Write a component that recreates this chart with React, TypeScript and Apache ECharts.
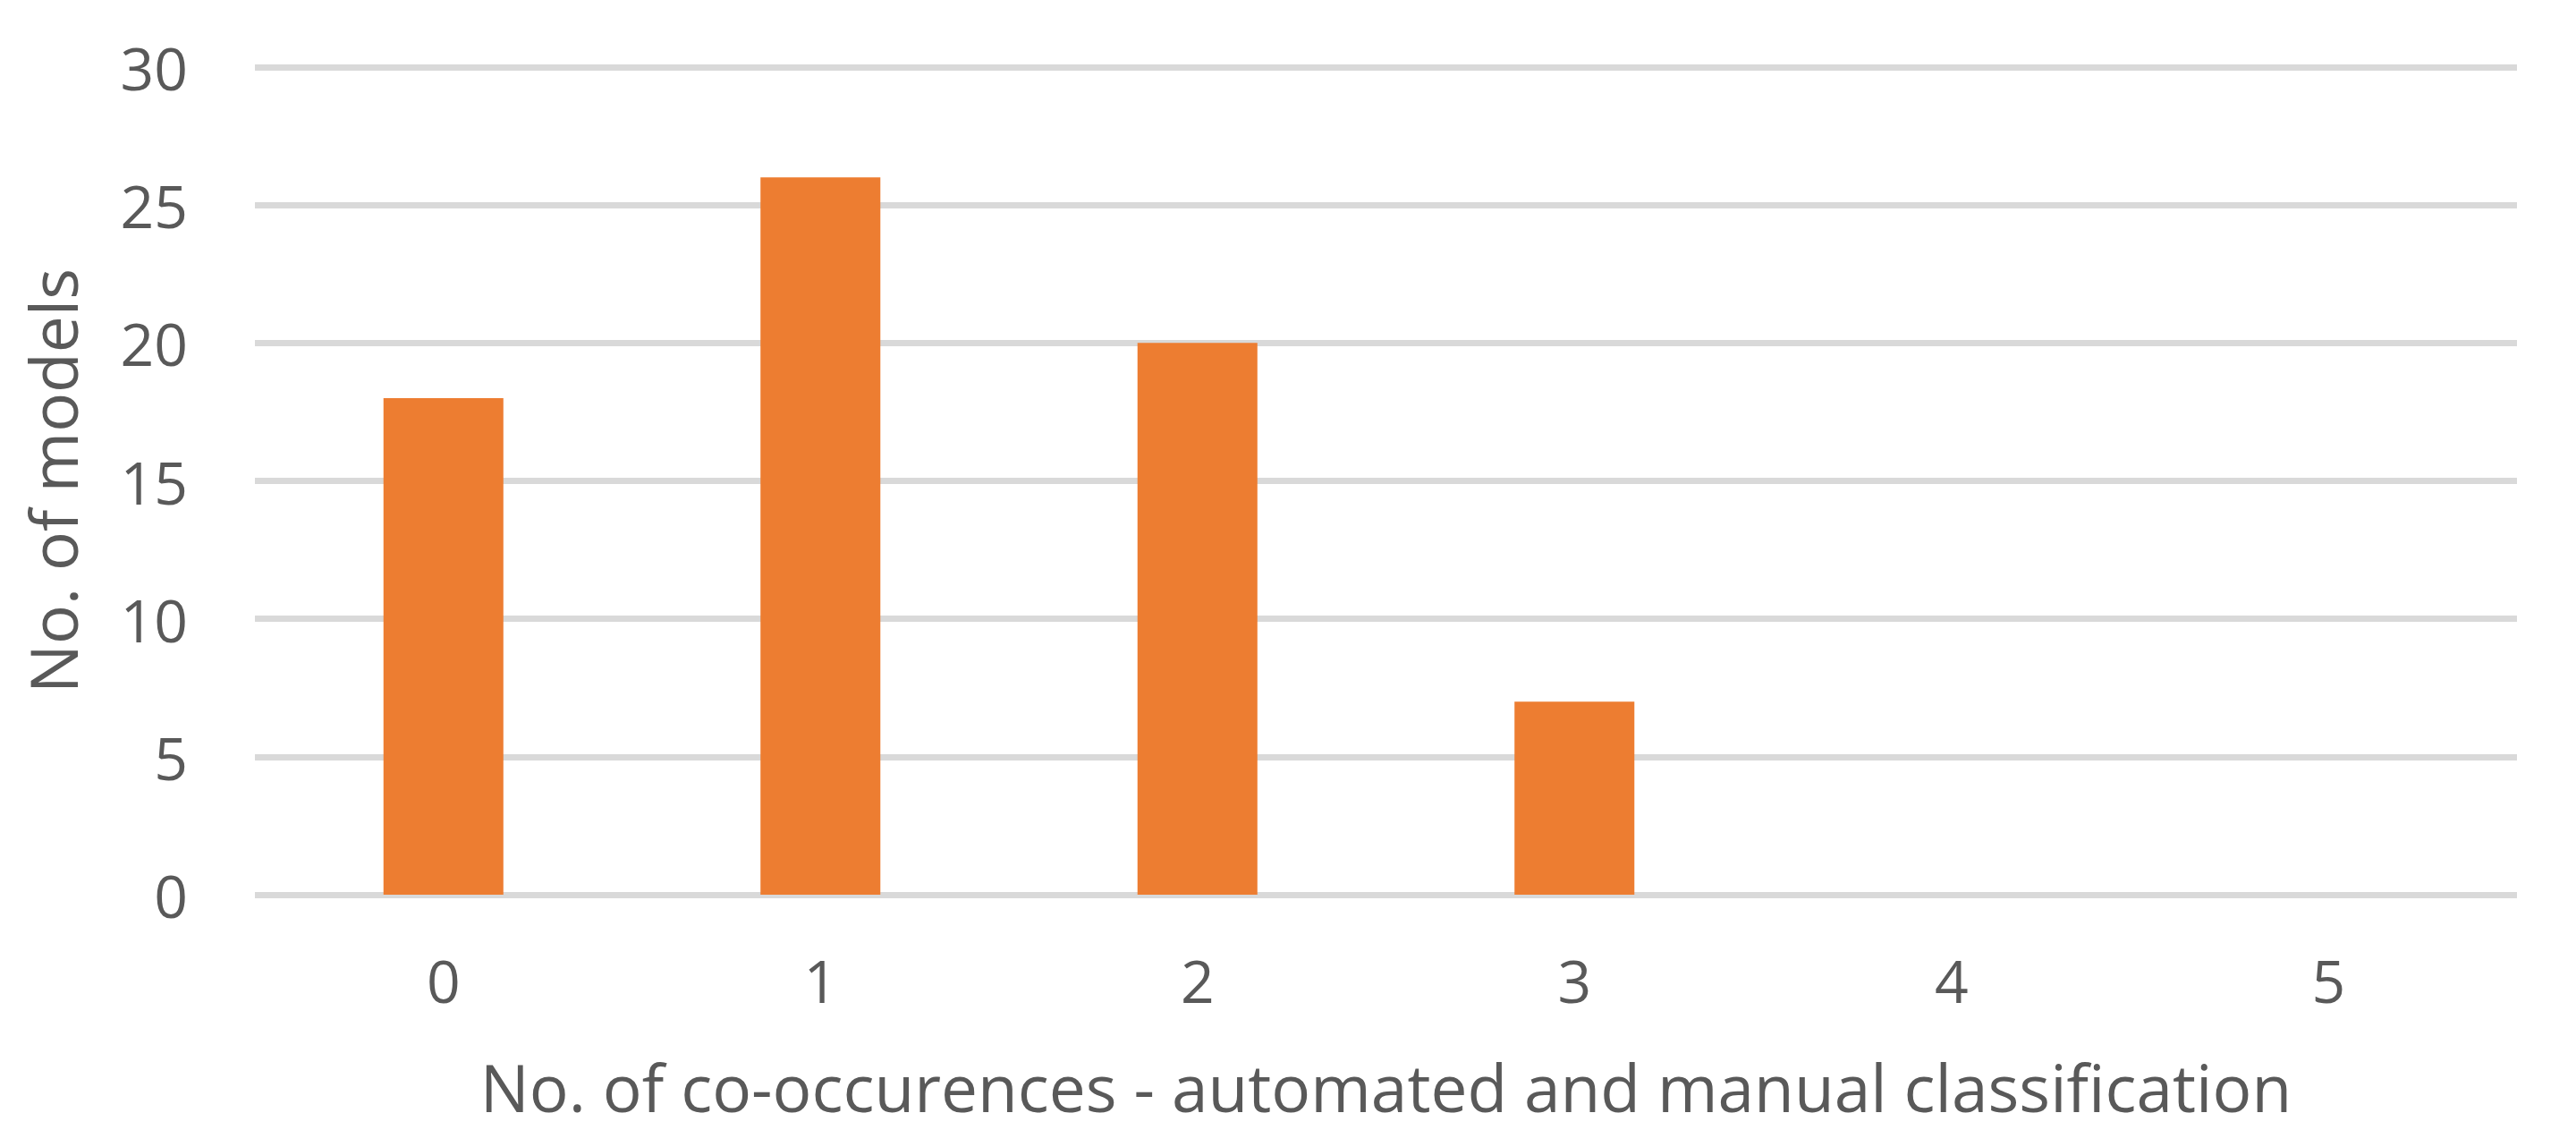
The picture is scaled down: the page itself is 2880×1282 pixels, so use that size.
import React, { useEffect, useRef } from "react";
import * as echarts from "echarts";

const categories = ["0", "1", "2", "3", "4", "5"];
const modelCounts = [18, 26, 20, 7, 0, 0];
const yTicks = { min: 0, max: 30, interval: 5 };
const xAxisTitle = "No. of co-occurences - automated and manual classification";
const yAxisTitle = "No. of models";

const FONT = "'Open Sans', 'Noto Sans', sans-serif";
const TEXT = "#595959";

export default function App() {
  const ref = useRef<HTMLDivElement>(null);
  useEffect(() => {
    if (!ref.current) return;
    const chart = echarts.init(ref.current, undefined, { renderer: "svg" });
    chart.setOption({
      animation: false,
      backgroundColor: "#ffffff",
      grid: { left: 285, right: 66, top: 75, bottom: 282, containLabel: false },
      xAxis: {
        type: "category",
        data: categories,
        axisLine: { show: false },
        axisTick: { show: false },
        axisLabel: { color: TEXT, fontFamily: FONT, fontSize: 66, margin: 62 },
        name: xAxisTitle,
        nameLocation: "middle",
        nameGap: 178,
        nameTextStyle: { color: TEXT, fontFamily: FONT, fontSize: 73 },
      },
      yAxis: {
        type: "value",
        min: yTicks.min,
        max: yTicks.max,
        interval: yTicks.interval,
        axisLine: { show: false },
        axisTick: { show: false },
        splitLine: { lineStyle: { color: "#D9D9D9", width: 7 } },
        axisLabel: { color: TEXT, fontFamily: FONT, fontSize: 66, margin: 75 },
        name: yAxisTitle,
        nameLocation: "middle",
        nameGap: 190,
        nameTextStyle: { color: TEXT, fontFamily: FONT, fontSize: 73 },
      },
      series: [
        {
          type: "bar",
          data: modelCounts,
          barWidth: "31.8%",
          itemStyle: { color: "#ED7D31" },
        },
      ],
    });
    return () => chart.dispose();
  }, []);
  return (
    <div
      ref={ref}
      style={{ position: "fixed", left: 0, top: 0, width: 2880, height: 1282, background: "#fff" }}
    />
  );
}
